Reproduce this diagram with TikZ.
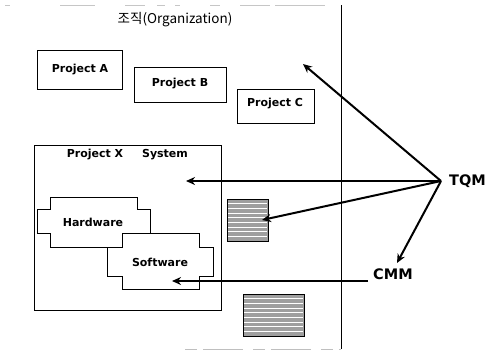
\documentclass[tikz,border=0pt]{standalone}
\usepackage{fontspec}
\setmainfont{DejaVu Sans}
\newfontfamily\krfont{Noto Sans CJK KR}
\usetikzlibrary{arrows.meta}
\begin{document}
\begin{tikzpicture}[x=1pt,y=-1pt,
  lbl/.style={font=\bfseries\fontsize{11}{13}\selectfont, inner sep=0pt},
  bigl/.style={font=\bfseries\fontsize{14.5}{16}\selectfont, inner sep=0pt},
  projbox/.style={draw, line width=0.8pt},
  puzzle/.style={draw, fill=white, line width=0.8pt},
  stripes/.style={draw, line width=0.6pt, fill=gray!75},
  arr/.style={line width=2pt, -{Stealth[length=9pt,width=8pt]}}]
\useasboundingbox (0,0) rectangle (489,351);

% organization frame
\draw[gray!45, line width=0.6pt, dash pattern=on 5pt off 50pt on 35pt off 30pt on 20pt off 12pt on 8pt off 10pt on 5pt off 30pt on 10pt off 20pt on 30pt] (5,5) -- (341,5);
\draw[line width=0.9pt] (341,5) -- (341,349);
\draw[gray!50, line width=0.6pt, dash pattern=on 12pt off 6pt on 40pt off 10pt] (185,349) -- (341,349);
\node[font=\krfont\fontsize{13.5}{15}\selectfont, inner sep=0pt] (org) at (175,20) {조직(Organization)};

% projects
\draw[projbox] (37,50) rectangle (122,89);
\node[lbl] (pa) at (80,70) {Project A};
\draw[projbox] (134,67) rectangle (226,102);
\node[lbl] (pb) at (180,84) {Project B};
\draw[projbox] (237,89) rectangle (314,123);
\node[lbl] (pc) at (275,104) {Project C};

% project X with system
\draw[projbox] (34,145) rectangle (221,310);
\node[lbl] (px) at (95,155) {Project X};
\node[lbl] (sys) at (165,155) {System};

% hardware and software pieces
\draw[puzzle] (50,197) -- (137,197) -- (137,209) -- (150,209) -- (150,233) -- (137,233)
  -- (137,247) -- (50,247) -- (50,233) -- (37,233) -- (37,209) -- (50,209) -- cycle;
\node[lbl] (hw) at (93,222) {Hardware};
\draw[puzzle] (122,233) -- (199,233) -- (199,247) -- (213,247) -- (213,276) -- (199,276)
  -- (199,289) -- (122,289) -- (122,276) -- (107,276) -- (107,247) -- (122,247) -- cycle;
\node[lbl] (sw) at (160,262) {Software};

% striped documents
\node[stripes, minimum width=41pt, minimum height=42pt, inner sep=0pt] (doc1) at (247.5,220) {};
\foreach \k in {1,...,8} \draw[white, line width=0.9pt] (228,199+4.7*\k) -- (267,199+4.7*\k);
\node[stripes, minimum width=61pt, minimum height=42pt, inner sep=0pt] (doc2) at (273.5,315) {};
\foreach \k in {1,...,8} \draw[white, line width=0.9pt] (244,294+4.7*\k) -- (303,294+4.7*\k);

% TQM and CMM
\node[bigl, anchor=west] (tqm) at (449,181) {TQM};
\node[bigl, anchor=west] (cmm) at (373,274) {CMM};
\coordinate (tsrc) at (441,181);
\coordinate (torg) at (303,64);
\coordinate (tsys) at (186,181);
\coordinate (tdoc) at (262,220);
\coordinate (tcmm) at (397,263);
\coordinate (csrc) at (368,281);
\coordinate (csw) at (172,281);

\draw[arr] (tsrc) -- (torg);
\draw[arr] (tsrc) -- (tsys);
\draw[arr] (tsrc) -- (tdoc);
\draw[arr] (tsrc) -- (tcmm);
\draw[arr] (csrc) -- (csw);
\end{tikzpicture}
\end{document}
